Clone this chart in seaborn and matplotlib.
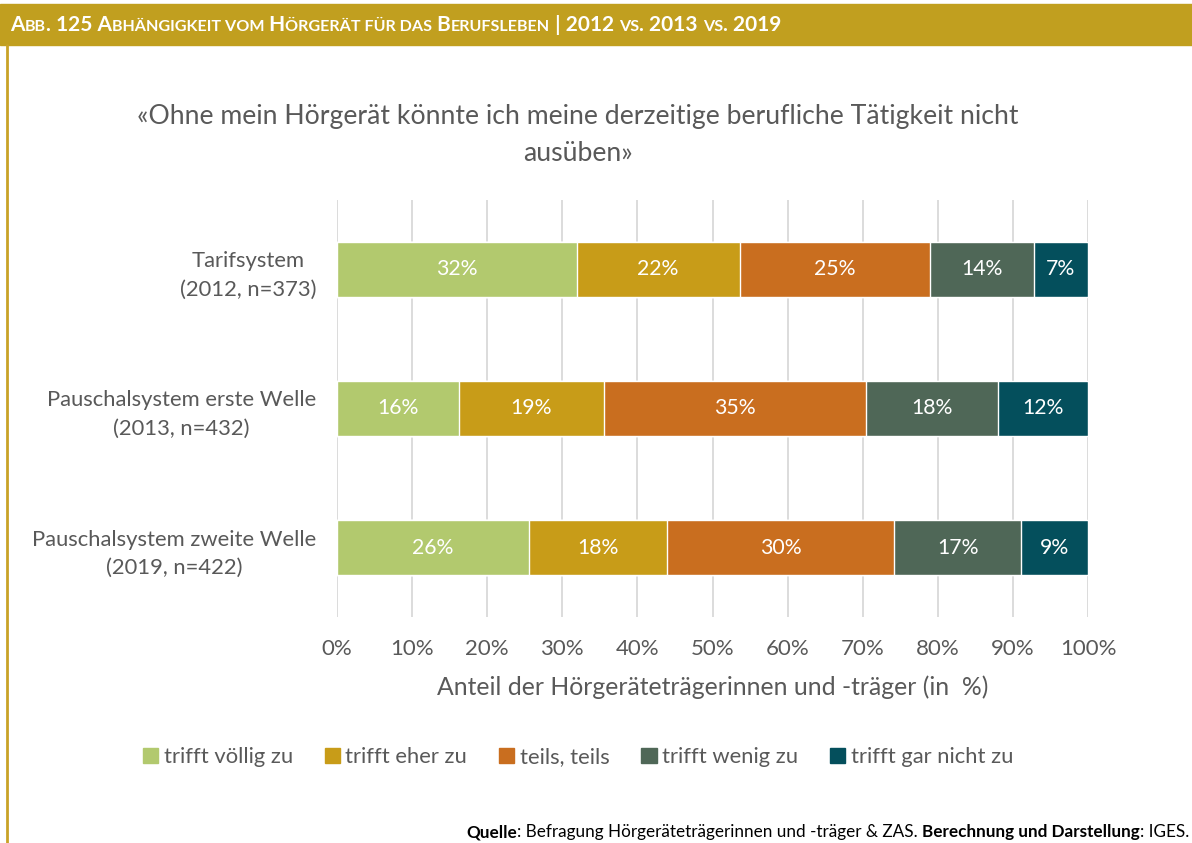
import matplotlib
matplotlib.use("Agg")
import matplotlib.pyplot as plt
import seaborn as sns
import pandas as pd
import numpy as np
from matplotlib.patches import Rectangle
from matplotlib.lines import Line2D

# data
groups = ["Tarifsystem\n(2012, n=373)",
          "Pauschalsystem erste Welle\n(2013, n=432)",
          "Pauschalsystem zweite Welle\n(2019, n=422)"]
answers = ["trifft völlig zu", "trifft eher zu", "teils, teils",
           "trifft wenig zu", "trifft gar nicht zu"]
voellig = [31.9, 16.2, 25.6]
eher = [21.7, 19.4, 18.4]
teils = [25.4, 34.8, 30.2]
wenig = [13.8, 17.6, 16.9]
gar_nicht = [7.2, 12.0, 8.9]
x_ticks = [0, 10, 20, 30, 40, 50, 60, 70, 80, 90, 100]

colors = ["#B2C96E", "#C89C18", "#C96E1F", "#4F6757", "#044F5C"]
grey = "#595959"
gold = "#C19F1F"

sns.set_theme(style="white")
plt.rcParams["font.family"] = ["Lato", "DejaVu Sans"]

W, H = 1192, 843
fig = plt.figure(figsize=(W / 100, H / 100), dpi=100)
ax = fig.add_axes([337 / W, 1 - 617 / H, 751 / W, 417 / H])

df = pd.DataFrame({"group": groups, answers[0]: voellig, answers[1]: eher,
                   answers[2]: teils, answers[3]: wenig, answers[4]: gar_nicht})
cum = df[answers].cumsum(axis=1)

# draw cumulative bars from the longest to the shortest so they stack
for ans, col in reversed(list(zip(answers, colors))):
    sns.barplot(x=cum[ans], y=df["group"], color=col, orient="h", width=0.4,
                saturation=1, ax=ax, label=ans, zorder=3)

# value labels in the middle of each segment
for i in range(len(groups)):
    left = 0
    for ans in answers:
        v = df.loc[i, ans]
        ax.text(left + v / 2, i, f"{v:.0f}%", ha="center", va="center",
                color="white", fontsize=15.3, zorder=4)
        left += v

ax.set_xlim(0, 100)
ax.set_xticks(x_ticks)
ax.set_xticklabels([f"{t}%" for t in x_ticks])
ax.xaxis.grid(True, color="#D9D9D9", lw=1.3, zorder=0)
ax.yaxis.grid(False)
for s in ax.spines.values():
    s.set_visible(False)
ax.tick_params(axis="x", colors=grey, labelsize=16, length=0, pad=16)
ax.tick_params(axis="y", colors=grey, labelsize=15.8, length=0, pad=15)
for lbl in ax.get_yticklabels():
    lbl.set_multialignment("center")
    lbl.set_linespacing(1.55)
ax.set_ylabel("")
ax.set_xlabel("Anteil der Hörgeräteträgerinnen und -träger (in  %)",
              color=grey, fontsize=17.8, labelpad=12)
ax.legend().remove()

# title
fig.text(578 / W, 1 - 135 / H,
         "«Ohne mein Hörgerät könnte ich meine derzeitige berufliche Tätigkeit nicht\nausüben»",
         ha="center", va="center", color=grey, fontsize=19.2, linespacing=1.58)

# legend
handles = [Rectangle((0, 0), 1, 1, color=c) for c in colors]
fig.legend(handles, answers, loc="center", bbox_to_anchor=(578 / W, 1 - 757 / H),
           ncol=5, frameon=False, fontsize=15.8, labelcolor=grey,
           handlelength=0.7, handleheight=0.7, handletextpad=0.25,
           columnspacing=1.45)

# header band and left rule
fig.patches.append(Rectangle((0, 1 - 45 / H), 1, 41 / H, transform=fig.transFigure,
                             color=gold, zorder=0))
fig.lines.append(Line2D([7.5 / W, 7.5 / W], [0, 1 - 45 / H], transform=fig.transFigure,
                        color="#C9A227", lw=2))

# header text in small caps, built piece by piece
big, small = 15, 11.6
header = [("A", big), ("BB", small), (". 125 A", big), ("BHÄNGIGKEIT VOM", small),
          (" H", big), ("ÖRGERÄT FÜR DAS", small), (" B", big), ("ERUFSLEBEN", small),
          (" | 2012 ", big), ("VS", small), (". 2013 ", big), ("VS", small), (". 2019", big)]
renderer = fig.canvas.get_renderer()
x = 10 / W
for txt, size in header:
    t = fig.text(x, 1 - 31 / H, txt, ha="left", va="baseline", color="white",
                 fontsize=size, fontweight="bold")
    bb = t.get_window_extent(renderer=renderer)
    x = bb.x1 / W

# source line, right aligned, built right to left
source = [("Quelle", "bold"), (": Befragung Hörgeräteträgerinnen und -träger & ZAS. ", "normal"),
          ("Berechnung und Darstellung", "bold"), (": IGES.", "normal")]
x = 1189 / W
for txt, weight in reversed(source):
    t = fig.text(x, 1 - 832 / H, txt, ha="right", va="center", color="black",
                 fontsize=12.3, fontweight=weight)
    bb = t.get_window_extent(renderer=renderer)
    x = bb.x0 / W

fig.savefig("out.png", dpi=100)
